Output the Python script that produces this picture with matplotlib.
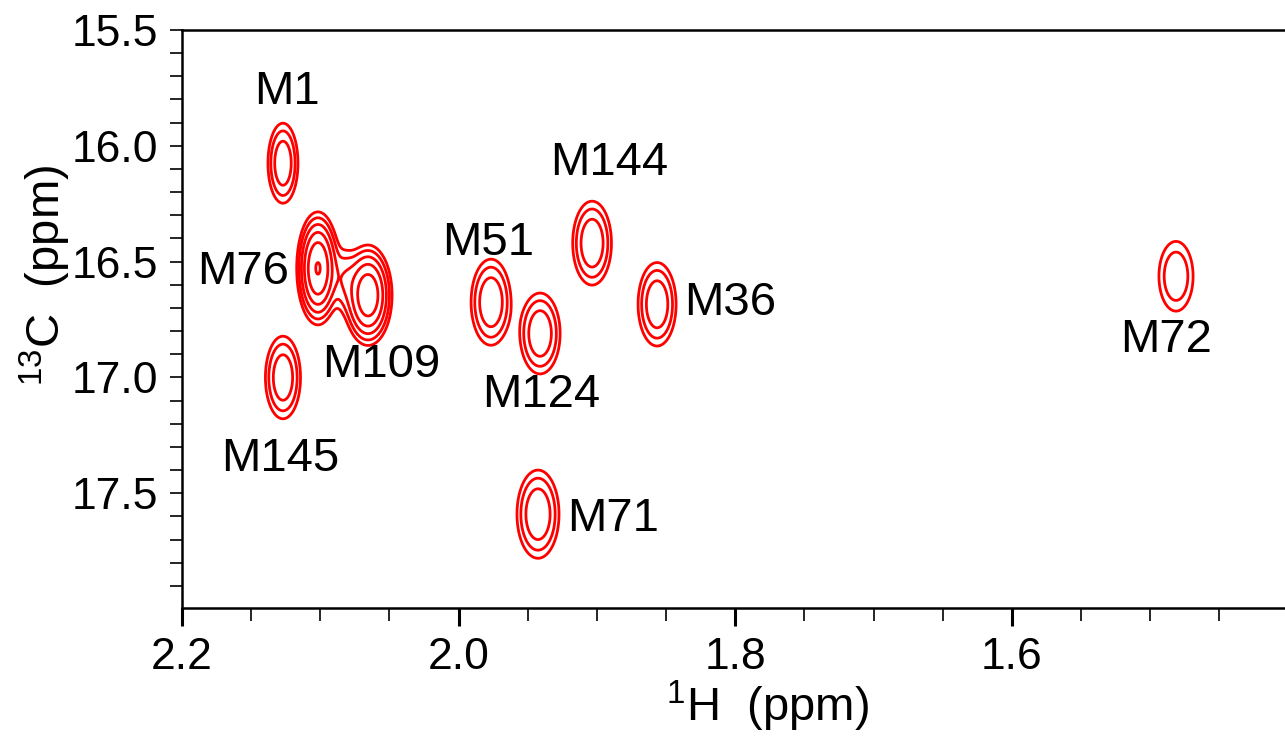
import numpy as np
import matplotlib
matplotlib.use('Agg')
import matplotlib.pyplot as plt
from matplotlib.ticker import MultipleLocator

plt.rcParams['font.family'] = ['Liberation Sans', 'DejaVu Sans']
plt.rcParams['mathtext.fontset'] = 'custom'
plt.rcParams['mathtext.rm'] = 'Liberation Sans'
plt.rcParams['mathtext.default'] = 'regular'

# methyl cross peaks: label, 1H shift, 13C shift, height, line widths (ppm)
# last entry is the unassigned ridge joining M76 and M109
peak_labels = ['M1', 'M76', 'M109', 'M145', 'M51', 'M124', 'M144', 'M36', 'M71', 'M72', '']
peak_h = [2.127, 2.1017, 2.0655, 2.127, 1.9766, 1.9411, 1.9035, 1.8565, 1.9426, 1.4813, 2.0825]
peak_c = [16.075, 16.529, 16.645, 17.00, 16.675, 16.81, 16.42, 16.684, 17.59, 16.563, 16.575]
peak_amp = [5.4, 19.5, 17.0, 5.4, 5.7, 5.6, 5.7, 5.6, 5.8, 3.1, 2.6]
peak_wh = [0.0059, 0.0063, 0.0073, 0.0069, 0.0077, 0.0078, 0.0075, 0.0074, 0.0081, 0.0082, 0.0058]
peak_wc = [0.094, 0.100, 0.091, 0.097, 0.0995, 0.094, 0.097, 0.097, 0.1015, 0.100, 0.080]

# where each assignment label sits
label_h = [2.124, 2.156, 2.056, 2.129, 1.979, 1.940, 1.891, 1.804, 1.888, 1.4885]
label_c = [15.768, 16.546, 16.948, 17.35, 16.42, 17.077, 16.075, 16.68, 17.609, 16.84]

# contour levels, multiplicative steps
levels = 1.0 * 1.8 ** np.arange(8)

h = np.linspace(2.2, 1.40, 1600)
c = np.linspace(15.5, 18.0, 700)
H, C = np.meshgrid(h, c)
spec = np.zeros_like(H)
for x0, y0, a, wx, wy in zip(peak_h, peak_c, peak_amp, peak_wh, peak_wc):
    spec += a * np.exp(-0.5 * ((H - x0) / wx) ** 2 - 0.5 * ((C - y0) / wy) ** 2)

fig = plt.figure(figsize=(12.85, 7.38), dpi=100)
ax = fig.add_axes([182 / 1285, 1 - 608 / 738, 1 - 182 / 1285, 578 / 738])

ax.contour(H, C, spec, levels=levels, colors='#ff0000', linewidths=2.0)

for name, x, y in zip(peak_labels, label_h, label_c):
    if name:
        ax.text(x, y, name, fontsize=34, ha='center', va='center')

ax.set_xlim(2.2, 1.4025)
ax.set_ylim(17.995, 15.5)

ax.xaxis.set_major_locator(MultipleLocator(0.2))
ax.xaxis.set_minor_locator(MultipleLocator(0.05))
ax.yaxis.set_major_locator(MultipleLocator(0.5))
ax.yaxis.set_minor_locator(MultipleLocator(0.1))
ax.xaxis.set_major_formatter(plt.FormatStrFormatter('%.1f'))
ax.yaxis.set_major_formatter(plt.FormatStrFormatter('%.1f'))

ax.tick_params(axis='x', which='major', direction='out', length=13, width=2.2, labelsize=32, pad=8)
ax.tick_params(axis='x', which='minor', direction='out', length=9, width=1.2)
ax.tick_params(axis='y', which='both', direction='out', length=9, width=1.2, labelsize=32, pad=8)

for side in ['left', 'bottom', 'top']:
    ax.spines[side].set_linewidth(1.8)
ax.spines['right'].set_visible(False)

fig.text(767 / 1285, 1 - 706 / 738, r'$^{1}$H  (ppm)', fontsize=34, ha='center', va='center')
fig.text(45 / 1285, 1 - 275 / 738, r'$^{13}$C  (ppm)', fontsize=34, ha='center', va='center',
         rotation=90)

fig.savefig('out.png', dpi=100)
